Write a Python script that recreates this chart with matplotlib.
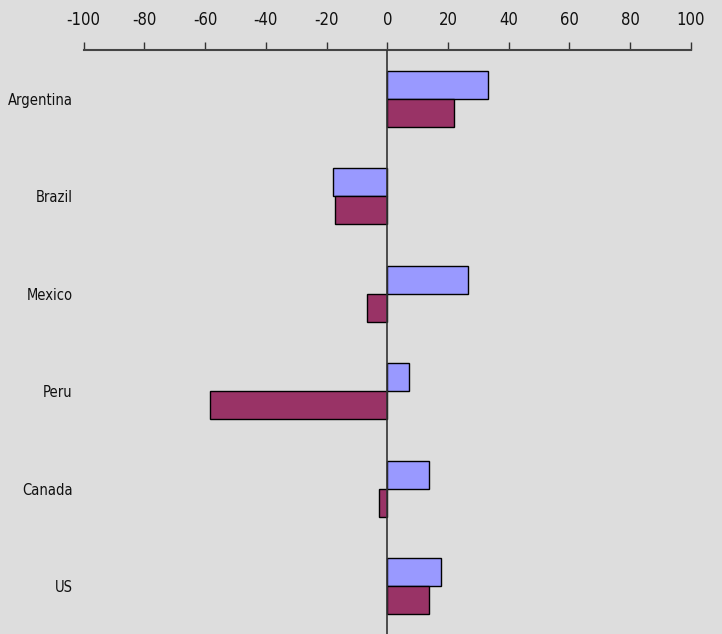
import numpy as np
import matplotlib
matplotlib.use("Agg")
import matplotlib.pyplot as plt

plt.rcParams['font.family'] = ['DejaVu Sans']
plt.rcParams['font.stretch'] = 'condensed'

countries = ["Argentina", "Brazil", "Mexico", "Peru", "Canada", "US"]
series_a = [33.2, -17.8, 26.6, 7.2, 13.8, 17.7]
series_b = [22.0, -17.2, -6.7, -58.5, -2.8, 13.6]
xticks = [-100, -80, -60, -40, -20, 0, 20, 40, 60, 80, 100]

bg = "#DDDDDD"
fig = plt.figure(figsize=(7.22, 6.34), dpi=100, facecolor=bg)
ax = fig.add_axes([83.6 / 722, -0.7 / 634, 607.3 / 722, 584.5 / 634])
ax.set_facecolor(bg)

y = np.arange(len(countries))
h = 0.2875
ax.barh(y - h / 2, series_a, height=h, color="#9999FF", edgecolor="black", linewidth=1)
ax.barh(y + h / 2, series_b, height=h, color="#993366", edgecolor="black", linewidth=1)

ax.set_xlim(-100, 100)
ax.set_ylim(len(countries) - 0.5, -0.5)
ax.axvline(0, color="#333333", linewidth=1.2, zorder=3)

ax.xaxis.tick_top()
ax.set_xticks(xticks)
ax.set_xticklabels([str(t) for t in xticks])
ax.tick_params(axis="x", direction="out", length=6, width=1, color="#333333",
               labelsize=12, pad=9, labelcolor="#111111")
ax.set_yticks(y)
ax.set_yticklabels(countries)
ax.tick_params(axis="y", length=0, labelsize=10.5, pad=8, labelcolor="#111111")

for side in ["left", "right", "bottom"]:
    ax.spines[side].set_visible(False)
ax.spines["top"].set_color("#444444")
ax.spines["top"].set_linewidth(1.5)

fig.savefig("out.png", dpi=100, facecolor=bg)
